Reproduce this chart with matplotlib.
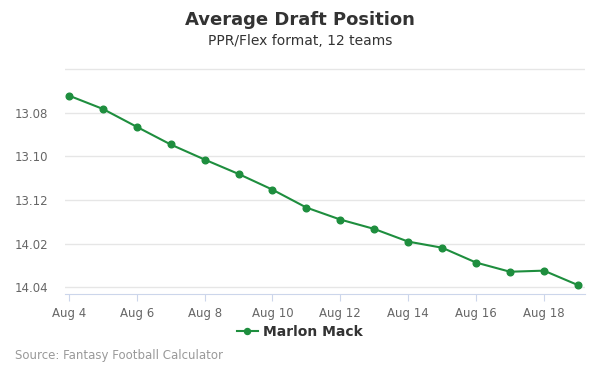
import matplotlib
matplotlib.use("Agg")
import matplotlib.pyplot as plt
from matplotlib.ticker import FuncFormatter

days = [4, 5, 6, 7, 8, 9, 10, 11, 12, 13, 14, 15, 16, 17, 18, 19]
adp_picks = [151.21, 151.82, 152.64, 153.45, 154.14, 154.80, 155.52, 156.34,
             156.89, 157.32, 157.90, 158.18, 158.86, 159.28, 159.23, 159.89]
x_ticks = [4, 6, 8, 10, 12, 14, 16, 18]
x_tick_labels = ["Aug 4", "Aug 6", "Aug 8", "Aug 10", "Aug 12", "Aug 14", "Aug 16", "Aug 18"]
y_ticks = [150, 152, 154, 156, 158, 160]
teams = 12
player = "Marlon Mack"
color = "#1e8e3e"

fig = plt.figure(figsize=(6, 3.75), dpi=100)
ax = fig.add_axes([0.108, 0.216, 0.867, 0.603])

ax.plot(days, adp_picks, color=color, lw=1.5, marker="o", ms=4.8, label=player, zorder=3)

ax.set_xlim(3.88, 19.21)
ax.set_ylim(160.3, 149.94)

def fmt(v, pos):
    v = int(round(v))
    if v == 150:
        return ""
    r = (v - 1) // teams + 1
    p = (v - 1) % teams + 1
    return f"{r}.{p:02d}"

ax.set_yticks(y_ticks)
ax.yaxis.set_major_formatter(FuncFormatter(fmt))
ax.set_xticks(x_ticks)
ax.set_xticklabels(x_tick_labels)

ax.grid(axis="y", color="#e6e6e6", lw=1)
ax.set_axisbelow(True)
for s in ["top", "right", "left"]:
    ax.spines[s].set_visible(False)
ax.spines["bottom"].set_color("#ccd6eb")
ax.tick_params(axis="y", length=0, labelsize=8.5, labelcolor="#666666", pad=12)
ax.tick_params(axis="x", length=5, color="#ccd6eb", labelsize=8.5, labelcolor="#666666", pad=4)

fig.text(0.5, 0.947, "Average Draft Position", ha="center", va="center",
         fontsize=13, fontweight="bold", color="#333333")
fig.text(0.5, 0.891, "PPR/Flex format, 12 teams", ha="center", va="center",
         fontsize=10, color="#333333")

leg = fig.legend(loc="center", bbox_to_anchor=(0.5, 0.114), frameon=False,
                 prop={"weight": "bold", "size": 10}, handlelength=1.5, handletextpad=0.4,
                 markerscale=0.9)
for t in leg.get_texts():
    t.set_color("#333333")

fig.text(0.025, 0.051, "Source: Fantasy Football Calculator", ha="left", va="center",
         fontsize=8.5, color="#999999")

fig.savefig("out.png", dpi=100)
